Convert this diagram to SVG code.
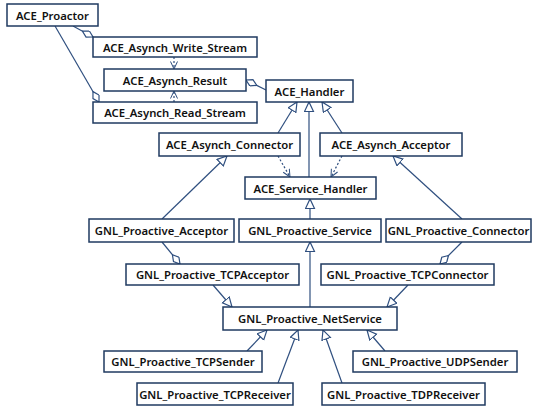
<svg xmlns="http://www.w3.org/2000/svg" width="536" height="409" viewBox="0 0 536 409">
<style>
.n rect{fill:#fff;stroke:#1f3a60;stroke-width:1.5}
.n text{font-family:"Noto Sans","Open Sans",sans-serif;font-size:11.3px;font-weight:600;fill:#111;text-anchor:middle;dominant-baseline:central}
.c line{stroke:#2f4f7f;stroke-width:1.2;fill:none}
.d{stroke-dasharray:2,2}
</style>
<defs>
<marker id="tri" markerUnits="userSpaceOnUse" markerWidth="12" markerHeight="12" refX="10" refY="5" orient="auto"><path d="M0.5,0.5 L10,5 L0.5,9.5 z" fill="#fff" stroke="#2f4f7f" stroke-width="1.2"/></marker>
<marker id="dia" markerUnits="userSpaceOnUse" markerWidth="14" markerHeight="10" refX="12.5" refY="4" orient="auto"><path d="M0.5,4 L6.5,0.5 L12.5,4 L6.5,7.5 z" fill="#fff" stroke="#2f4f7f" stroke-width="1.2"/></marker>
<marker id="opn" markerUnits="userSpaceOnUse" markerWidth="10" markerHeight="10" refX="8" refY="4" orient="auto"><path d="M0.5,0.5 L8,4 L0.5,7.5" fill="none" stroke="#2f4f7f" stroke-width="1"/></marker>
</defs>
<g class="c" id="connectors">
<line x1="73" y1="26" x2="93" y2="37" marker-end="url(#dia)"/>
<line x1="55" y1="26" x2="99" y2="102" marker-end="url(#dia)"/>
<line class="d" x1="174" y1="57" x2="174" y2="69" marker-end="url(#opn)"/>
<line class="d" x1="174" y1="102" x2="174" y2="91" marker-end="url(#opn)"/>
<line x1="266" y1="90" x2="246" y2="80" marker-end="url(#dia)"/>
<line x1="278" y1="133" x2="297" y2="102" marker-end="url(#tri)"/>
<line x1="309" y1="177" x2="309" y2="102" marker-end="url(#tri)"/>
<line x1="342" y1="133" x2="322" y2="102" marker-end="url(#tri)"/>
<line class="d" x1="278" y1="156" x2="290" y2="177" marker-end="url(#opn)"/>
<line class="d" x1="342" y1="156" x2="331" y2="177" marker-end="url(#opn)"/>
<line x1="310" y1="219" x2="310" y2="199" marker-end="url(#tri)"/>
<line x1="162" y1="219" x2="227" y2="156" marker-end="url(#tri)"/>
<line x1="462" y1="219" x2="393" y2="156" marker-end="url(#tri)"/>
<line x1="162" y1="242" x2="180" y2="264" marker-end="url(#dia)"/>
<line x1="462" y1="242" x2="440" y2="264" marker-end="url(#dia)"/>
<line x1="213" y1="285" x2="232" y2="307" marker-end="url(#tri)"/>
<line x1="408" y1="285" x2="387" y2="307" marker-end="url(#tri)"/>
<line x1="310" y1="307" x2="310" y2="242" marker-end="url(#tri)"/>
<line x1="247" y1="351" x2="267" y2="330" marker-end="url(#tri)"/>
<line x1="278" y1="383" x2="298" y2="330" marker-end="url(#tri)"/>
<line x1="342" y1="383" x2="323" y2="330" marker-end="url(#tri)"/>
<line x1="385" y1="351" x2="367" y2="330" marker-end="url(#tri)"/>
</g>
<g class="n" id="ACE_Proactor"><rect x="7" y="4" width="91" height="22"/><text x="52.5" y="15">ACE_Proactor</text></g>
<g class="n" id="ACE_Asynch_Write_Stream"><rect x="93" y="37" width="164" height="20"/><text x="175" y="47">ACE_Asynch_Write_Stream</text></g>
<g class="n" id="ACE_Asynch_Result"><rect x="104" y="69" width="142" height="22"/><text x="175" y="80">ACE_Asynch_Result</text></g>
<g class="n" id="ACE_Asynch_Read_Stream"><rect x="93" y="102" width="164" height="21"/><text x="175" y="112.5">ACE_Asynch_Read_Stream</text></g>
<g class="n" id="ACE_Handler"><rect x="266" y="80" width="87" height="22"/><text x="309.5" y="91">ACE_Handler</text></g>
<g class="n" id="ACE_Asynch_Connector"><rect x="159" y="133" width="141" height="23"/><text x="229.5" y="144.5">ACE_Asynch_Connector</text></g>
<g class="n" id="ACE_Asynch_Acceptor"><rect x="320" y="133" width="142" height="23"/><text x="391" y="144.5">ACE_Asynch_Acceptor</text></g>
<g class="n" id="ACE_Service_Handler"><rect x="245" y="177" width="131" height="22"/><text x="310.5" y="188">ACE_Service_Handler</text></g>
<g class="n" id="GNL_Proactive_Acceptor"><rect x="89" y="219" width="145" height="23"/><text x="161.5" y="230.5">GNL_Proactive_Acceptor</text></g>
<g class="n" id="GNL_Proactive_Service"><rect x="239" y="219" width="142" height="23"/><text x="310" y="230.5">GNL_Proactive_Service</text></g>
<g class="n" id="GNL_Proactive_Connector"><rect x="386" y="219" width="145" height="23"/><text x="458.5" y="230.5">GNL_Proactive_Connector</text></g>
<g class="n" id="GNL_Proactive_TCPAcceptor"><rect x="126" y="264" width="173" height="21"/><text x="212.5" y="274.5">GNL_Proactive_TCPAcceptor</text></g>
<g class="n" id="GNL_Proactive_TCPConnector"><rect x="321" y="264" width="173" height="21"/><text x="407.5" y="274.5">GNL_Proactive_TCPConnector</text></g>
<g class="n" id="GNL_Proactive_NetService"><rect x="223" y="307" width="174" height="23"/><text x="310" y="318.5">GNL_Proactive_NetService</text></g>
<g class="n" id="GNL_Proactive_TCPSender"><rect x="104" y="351" width="158" height="21"/><text x="183" y="361.5">GNL_Proactive_TCPSender</text></g>
<g class="n" id="GNL_Proactive_TCPReceiver"><rect x="137" y="383" width="156" height="22"/><text x="215" y="394">GNL_Proactive_TCPReceiver</text></g>
<g class="n" id="GNL_Proactive_UDPSender"><rect x="353" y="351" width="164" height="21"/><text x="435" y="361.5">GNL_Proactive_UDPSender</text></g>
<g class="n" id="GNL_Proactive_TDPReceiver"><rect x="322" y="383" width="163" height="22"/><text x="403.5" y="394">GNL_Proactive_TDPReceiver</text></g>
</svg>
